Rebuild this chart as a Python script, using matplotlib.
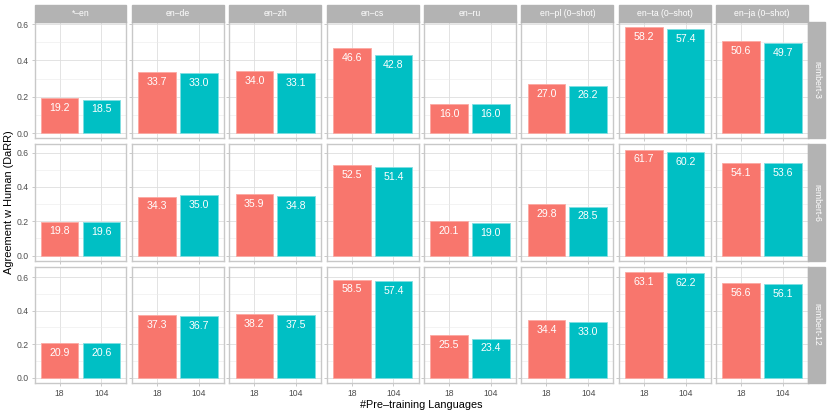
import matplotlib
matplotlib.use("Agg")
import matplotlib.pyplot as plt
from matplotlib.patches import Rectangle

plt.rcParams["font.family"] = ["Liberation Sans", "DejaVu Sans"]

# data (values in percent, plotted /100)
pairs = ["*–en", "en–de", "en–zh", "en–cs", "en–ru",
         "en–pl (0–shot)", "en–ta (0–shot)", "en–ja (0–shot)"]
models = ["rembert-3", "rembert-6", "rembert-12"]
langs = ["18", "104"]

vals_18 = [
    [19.2, 33.7, 34.0, 46.6, 16.0, 27.0, 58.2, 50.6],
    [19.8, 34.3, 35.9, 52.5, 20.1, 29.8, 61.7, 54.1],
    [20.9, 37.3, 38.2, 58.5, 25.5, 34.4, 63.1, 56.6],
]
vals_104 = [
    [18.5, 33.0, 33.1, 42.8, 16.0, 26.2, 57.4, 49.7],
    [19.6, 35.0, 34.8, 51.4, 19.0, 28.5, 60.2, 53.6],
    [20.6, 36.7, 37.5, 57.4, 23.4, 33.0, 62.2, 56.1],
]

colors = ["#F8766D", "#00BFC4"]
edge = ["#FBA9A3", "#7FDFE1"]
W, H = 830, 415
grey70 = "#B3B3B3"
grey87 = "#DEDEDE"
grey30 = "#4D4D4D"

fig = plt.figure(figsize=(W / 100, H / 100), dpi=100)

x0, pw, gap = 34.5, 91.9, 5.48
row_tops = [22.0, 144.3, 266.6]
ph = 116.5
strip_h = 17.0

def px(l, t, w, h):
    return [l / W, 1 - (t + h) / H, w / W, h / H]

for r in range(3):
    ymax = max(vals_18[r] + vals_104[r]) / 100
    lo, hi = -0.05 * ymax, 1.05 * ymax
    for c in range(8):
        left = x0 + c * (pw + gap)
        ax = fig.add_axes(px(left, row_tops[r], pw, ph))
        ys = [vals_18[r][c], vals_104[r][c]]
        for i, v in enumerate(ys):
            ax.bar(i + 1, v / 100, width=0.9, color=colors[i],
                   edgecolor=edge[i], linewidth=0.6, zorder=3)
            ax.annotate(f"{v:.1f}", (i + 1, v / 100), xytext=(0, -3.5),
                        textcoords="offset points", ha="center", va="top",
                        color="white", fontsize=7.6, zorder=4)
        ax.set_xlim(0.4, 2.6)
        ax.set_ylim(lo, hi)
        ax.set_xticks([1, 2])
        ax.set_yticks([0, 0.2, 0.4, 0.6])
        ax.set_yticks([0.1, 0.3, 0.5], minor=True)
        ax.grid(which="major", color=grey87, lw=0.6, zorder=0)
        ax.grid(which="minor", axis="y", color="#EBEBEB", lw=0.4, zorder=0)
        ax.set_axisbelow(True)
        for s in ax.spines.values():
            s.set_color("#C8C8C8")
            s.set_linewidth(1.0)
        ax.tick_params(which="major", length=2.5, width=0.5, color=grey70,
                       labelsize=6.2, labelcolor=grey30, pad=2)
        ax.tick_params(which="minor", length=0)
        if c == 0:
            ax.set_yticklabels(["0.0", "0.2", "0.4", "0.6"])
        else:
            ax.set_yticklabels([])
        if r == 2:
            ax.set_xticklabels(langs)
        else:
            ax.set_xticklabels([])
        # top strip
        if r == 0:
            fig.patches.append(Rectangle((left / W, 1 - (row_tops[0]) / H),
                                         pw / W, strip_h / H,
                                         transform=fig.transFigure,
                                         color=grey70, zorder=1))
            fig.text((left + pw / 2) / W, 1 - (row_tops[0] - strip_h / 2) / H,
                     pairs[c], ha="center", va="center", color="white",
                     fontsize=6.2)
    # right strip
    sl = x0 + 8 * pw + 7 * gap
    fig.patches.append(Rectangle((sl / W, 1 - (row_tops[r] + ph) / H),
                                 strip_h / W, ph / H,
                                 transform=fig.transFigure,
                                 color=grey70, zorder=1))
    fig.text((sl + strip_h / 2) / W, 1 - (row_tops[r] + ph / 2) / H,
             models[r], ha="center", va="center", color="white",
             fontsize=6.2, rotation=-90)

fig.text(421 / W, 1 - 405 / H, "#Pre–training Languages", ha="center",
         va="center", fontsize=7.8)
fig.text(9.3 / W, 1 - 202.5 / H, "Agreement w Human (DaRR)", ha="center",
         va="center", fontsize=7.9, rotation=90)

fig.savefig("out.png", dpi=100)
